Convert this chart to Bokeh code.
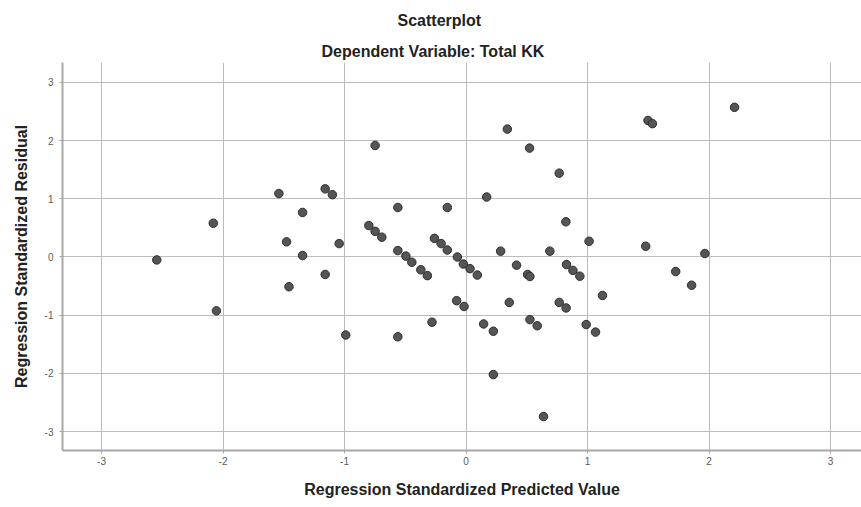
from bokeh.plotting import figure
from bokeh.models import Range1d, FixedTicker, Title, ColumnDataSource
from bokeh.embed import file_html
from bokeh.resources import INLINE

# ---- data ----
predicted = [-2.545, -2.08, -2.054, -1.54, -1.477, -1.457, -1.345, -1.345, -1.159, -1.10,
             -1.159, -1.044, -0.99, -0.80, -0.748, -0.693, -0.748, -0.561, -0.561, -0.495,
             -0.446, -0.372, -0.318, -0.561, -0.28, -0.26, -0.205, -0.154, -0.154, -0.071,
             -0.022, 0.033, 0.093, -0.077, -0.016, 0.17, 0.145, 0.225, 0.225, 0.285,
             0.34, 0.356, 0.416, 0.507, 0.526, 0.523, 0.526, 0.586, 0.638, 0.69,
             0.767, 0.767, 0.824, 0.822, 0.827, 0.88, 0.937, 1.013, 0.989, 1.066,
             1.123, 1.479, 1.498, 1.534, 1.726, 1.857, 1.966, 2.21]
residual = [-0.05, 0.58, -0.925, 1.09, 0.26, -0.51, 0.765, 0.025, 1.17, 1.07,
            -0.30, 0.23, -1.34, 0.54, 0.44, 0.34, 1.915, 0.85, 0.11, 0.015,
            -0.09, -0.22, -0.32, -1.37, -1.12, 0.32, 0.23, 0.12, 0.85, 0.0,
            -0.12, -0.20, -0.31, -0.75, -0.85, 1.03, -1.15, -1.275, -2.02, 0.10,
            2.196, -0.78, -0.14, -0.30, -0.335, 1.87, -1.075, -1.18, -2.74, 0.10,
            1.44, -0.78, -0.875, 0.605, -0.13, -0.23, -0.33, 0.27, -1.16, -1.29,
            -0.66, 0.185, 2.345, 2.29, -0.25, -0.485, 0.06, 2.57]
x_ticks = [-3, -2, -1, 0, 1, 2, 3]
x_tick_labels = ["-3", "-2", "-1", "0", "1", "2", "3"]
y_ticks = [-3, -2, -1, 0, 1, 2, 3]
y_tick_labels = ["-3", "-2", "-1", "0", "1", "2", "3"]
title_text = "Scatterplot"
subtitle_text = "Dependent Variable: Total KK"
x_label = "Regression Standardized Predicted Value"
y_label = "Regression Standardized Residual"

FONT = "Liberation Sans"

p = figure(width=861, height=507, output_backend="svg", toolbar_location=None,
           x_range=Range1d(-3.321, 3.255), y_range=Range1d(-3.323, 3.340),
           min_border_left=62, min_border_top=62, min_border_bottom=57, min_border_right=0)
p.title = None
p.outline_line_color = None
p.background_fill_color = "white"
p.border_fill_color = "white"

src = ColumnDataSource(dict(x=predicted, y=residual))
p.scatter("x", "y", source=src, size=8.5, fill_color="#555555", line_color="#2f2f2f",
          line_width=1)

for ax, ticks, labels in ((p.xaxis[0], x_ticks, x_tick_labels), (p.yaxis[0], y_ticks, y_tick_labels)):
    ax.ticker = FixedTicker(ticks=ticks)
    ax.major_label_overrides = {t: l for t, l in zip(ticks, labels)}
    ax.minor_tick_line_color = None
    ax.major_tick_in = 0
    ax.major_tick_out = 3
    ax.major_tick_line_color = "#a8a8a8"
    ax.axis_line_color = "#a8a8a8"
    ax.axis_line_width = 2
    ax.major_label_text_font = FONT
    ax.major_label_text_font_size = "10px"
    ax.major_label_text_color = "#5a5a5a"
    ax.axis_label_text_font = FONT
    ax.axis_label_text_font_size = "16px"
    ax.axis_label_text_font_style = "bold"
    ax.axis_label_text_color = "#222222"

p.xaxis.axis_label = x_label
p.yaxis.axis_label = y_label
p.xaxis.major_label_standoff = 3
p.xaxis.axis_label_standoff = 13
p.yaxis.major_label_standoff = 6
p.yaxis.axis_label_standoff = 12

p.xgrid.ticker = FixedTicker(ticks=x_ticks)
p.ygrid.ticker = FixedTicker(ticks=y_ticks)
p.grid.grid_line_color = "#bcbcbc"
p.grid.grid_line_width = 1

p.add_layout(Title(text=subtitle_text, align="left", offset=259, standoff=6,
                   text_font=FONT, text_font_size="16px", text_font_style="bold",
                   text_color="#222222"), "above")
p.add_layout(Title(text=title_text, align="left", offset=335, standoff=17,
                   text_font=FONT, text_font_size="16px", text_font_style="bold",
                   text_color="#222222"), "above")

open("out.html", "w").write(file_html(p, INLINE))
